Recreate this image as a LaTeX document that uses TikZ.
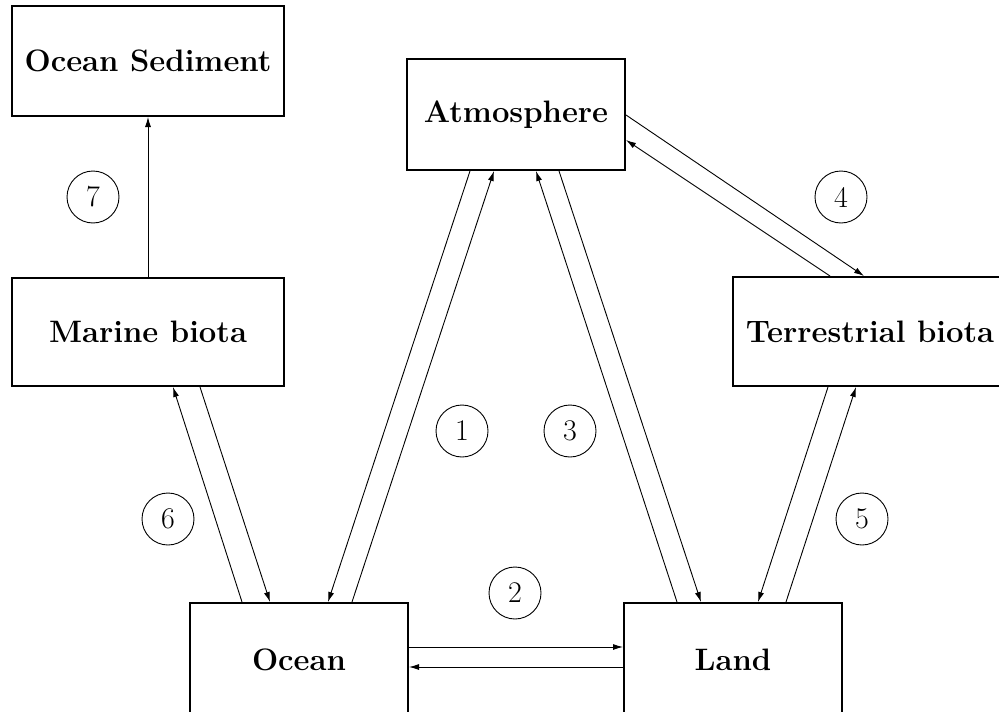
\documentclass[tikz,border=0pt]{standalone}
\usetikzlibrary{arrows.meta,calc}
\begin{document}
\begin{tikzpicture}[x=1pt,y=-1pt,
  box/.style={draw,line width=2pt,inner sep=0pt,font=\fontsize{31}{36}\selectfont\bfseries},
  num/.style={draw,circle,line width=0.9pt,minimum size=52pt,inner sep=0pt,font=\fontsize{30}{34}\selectfont},
  flow/.style={line width=0.9pt,-{Latex[length=10pt,width=6pt]}}]
\clip (0,0) rectangle (999,712);
\node[box,minimum width=272pt,minimum height=110pt] (sed) at (148,61) {Ocean Sediment};
\node[box,minimum width=218pt,minimum height=111pt] (atm) at (516,114.5) {Atmosphere};
\node[box,minimum width=272pt,minimum height=108pt] (mar) at (148,332) {Marine biota};
\node[box,minimum width=274pt,minimum height=109pt] (ter) at (870,331.5) {Terrestrial biota};
\node[box,minimum width=218pt,minimum height=114pt] (ocean) at (299,660) {Ocean};
\node[box,minimum width=218pt,minimum height=114pt] (land) at (733,660) {Land};
\node[num] (n7) at (93,197) {7};
\node[num] (n4) at (841,197) {4};
\node[num] (n1) at (462,431) {1};
\node[num] (n3) at (570,431) {3};
\node[num] (n6) at (168,519) {6};
\node[num] (n5) at (862,519) {5};
\node[num] (n2) at (515,593) {2};
% 7
\draw[flow] (mar.north) -- (sed.south);
% ocean - atmosphere
\draw[flow] ([xshift=64pt]atm.south west) -- ([xshift=139pt]ocean.north west);
\draw[flow] ([xshift=163pt]ocean.north west) -- ([xshift=88pt]atm.south west);
% land - atmosphere
\draw[flow] ([xshift=54pt]land.north west) -- ([xshift=130pt]atm.south west);
\draw[flow] ([xshift=153pt]atm.south west) -- ([xshift=78pt]land.north west);
% atmosphere - terrestrial
\draw[flow] ([yshift=-57pt]atm.north east) -- ([xshift=132pt]ter.north west);
\draw[flow] ([xshift=98pt]ter.north west) -- ([yshift=-82pt]atm.north east);
% terrestrial - land
\draw[flow] ([xshift=96pt]ter.south west) -- ([xshift=135pt]land.north west);
\draw[flow] ([xshift=163pt]land.north west) -- ([xshift=124pt]ter.south west);
% ocean - marine
\draw[flow] ([xshift=53pt]ocean.north west) -- ([xshift=162pt]mar.south west);
\draw[flow] ([xshift=189pt]mar.south west) -- ([xshift=81pt]ocean.north west);
% ocean - land
\draw[flow] ([yshift=-45pt]ocean.north east) -- ([yshift=-45pt]land.north west);
\draw[flow] ([yshift=-65pt]land.north west) -- ([yshift=-65pt]ocean.north east);
\end{tikzpicture}
\end{document}
